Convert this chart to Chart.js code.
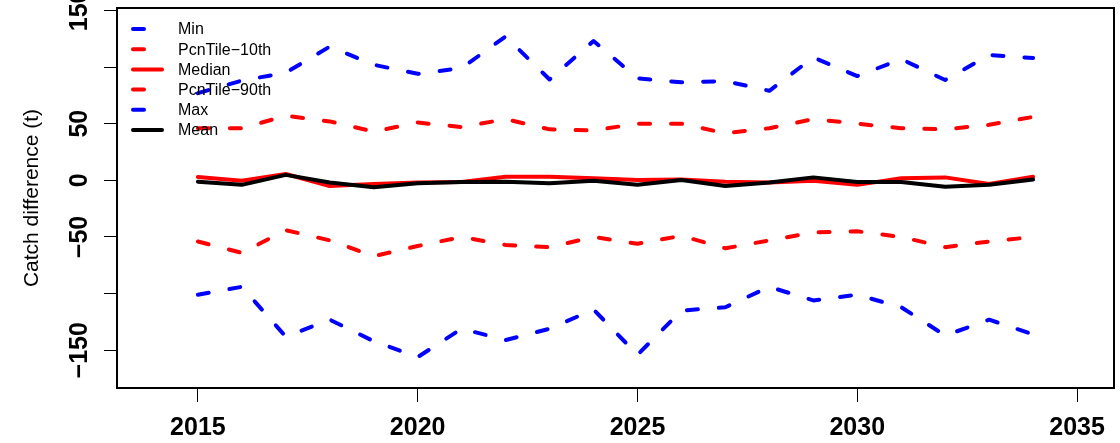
<!DOCTYPE html>
<html>
<head>
<meta charset="utf-8">
<script src="https://cdn.jsdelivr.net/npm/chart.js@4/dist/chart.umd.min.js"></script>
<style>
  html, body { margin:0; padding:0; background:#fff; }
  #wrap { width:1120px; height:443px; }
</style>
</head>
<body>
<div id="wrap"><canvas id="catchChart" width="1120" height="443"></canvas></div>
<script>
// ── Data ─────────────────────────────────────────────────
const YEARS   = [2015,2016,2017,2018,2019,2020,2021,2022,2023,2024,
                 2025,2026,2027,2028,2029,2030,2031,2032,2033,2034];
const MIN_V   = [-101,-94,-138,-123,-142,-156,-131,-141,-131,-114,
                 -154,-115,-112,-94,-106,-101,-112,-137,-123,-136];
const P10_V   = [-54,-64,-44,-53,-67,-58,-50,-57,-59,-50,
                 -56,-49,-60,-53,-46,-45,-50,-59,-54,-50];
const MED_V   = [3,-0.3,5.6,-5,-3.3,-2,-1.5,3.2,3.2,1.8,
                 0.3,0.8,-1.2,-2,-0.3,-4,1.8,2.6,-3.3,3.2];
const P90_V   = [46,46,57,52,43,51,47,54,45,44,
                 50,50,41.5,46,54,50,46,45,49,56];
const MAX_V   = [77,88,95,118,102,94,99,127,89,123,
                 90,86.5,87.6,79,108.5,92,107,88.5,110.6,108];
const MEAN_V  = [-1.2,-4,4.8,-2,-6.2,-2.6,-1.5,-1.2,-2.6,-0.3,
                 -4,0.3,-5,-2,2.6,-1.5,-1.5,-5.6,-4,0.8];

const X_TICKS   = [2015,2020,2025,2030,2035];
const Y_TICKS   = [-150,-100,-50,0,50,100,150];
const Y_LABELS  = ["−150","","−50","0","50","","150"];   // R drops 100 / -100 (overlap)

const FONT = "'Liberation Sans', Arial, Helvetica, sans-serif";
const DASH = [11,21];

const pts = vals => YEARS.map((yr,i) => ({ x:yr, y:vals[i] }));

// ── Box, y labels and legend (R style) ───────────────────
const rStyle = {
  id: "rStyle",
  afterDraw(chart) {
    const { ctx, chartArea:a, scales } = chart;
    ctx.save();
    // plot frame
    ctx.strokeStyle = "#000"; ctx.lineWidth = 2; ctx.setLineDash([]);
    ctx.strokeRect(a.left, a.top, a.right - a.left, a.bottom - a.top);

    // rotated y tick labels
    ctx.fillStyle = "#000";
    ctx.font = "bold 25px " + FONT;
    ctx.textAlign = "center"; ctx.textBaseline = "middle";
    Y_TICKS.forEach((v,i) => {
      if (!Y_LABELS[i]) return;
      const y = scales.y.getPixelForValue(v);
      ctx.save(); ctx.translate(80, y); ctx.rotate(-Math.PI/2);
      ctx.fillText(Y_LABELS[i], 0, 0);
      ctx.restore();
    });

    // legend
    ctx.font = "16px " + FONT;
    ctx.textAlign = "left";
    chart.data.datasets.forEach((ds,i) => {
      const y = 29 + i*20.2;
      ctx.strokeStyle = ds.borderColor; ctx.lineWidth = ds.borderWidth;
      ctx.lineCap = "round";
      ctx.setLineDash(ds.borderDash || []);
      ctx.beginPath(); ctx.moveTo(133, y); ctx.lineTo(162, y); ctx.stroke();
      ctx.fillStyle = "#000";
      ctx.fillText(ds.label, 178, y + 1);
    });
    ctx.restore();
  }
};

const line = (label, vals, color, dashed, order) => ({
  label, data: pts(vals),
  borderColor: color, borderWidth: 4,
  borderDash: dashed ? DASH : [],
  borderCapStyle: "round", borderJoinStyle: "round",
  pointRadius: 0, tension: 0, fill: false, order
});

new Chart(document.getElementById("catchChart"), {
  type: "line",
  data: {
    datasets: [
      line("Min",          MIN_V,  "#0000FF", true,  1),
      line("PcnTile−10th", P10_V,  "#FF0000", true,  1),
      line("Median",       MED_V,  "#FF0000", false, 1),
      line("PcnTile−90th", P90_V,  "#FF0000", true,  1),
      line("Max",          MAX_V,  "#0000FF", true,  1),
      line("Mean",         MEAN_V, "#000000", false, 0),
    ]
  },
  options: {
    responsive: false, animation: false, devicePixelRatio: 1,
    layout: { padding: { left:0, top:8, right:6, bottom:0 } },
    plugins: { legend:{ display:false }, tooltip:{ enabled:false } },
    scales: {
      x: {
        type: "linear", min: 2013.16, max: 2035.84,
        afterBuildTicks: s => { s.ticks = X_TICKS.map(v => ({ value:v })); },
        afterFit: s => { s.height = 55; },
        grid: { drawOnChartArea:false, drawTicks:true, tickLength:14, color:"#000", lineWidth:1 },
        border: { display:false },
        ticks: { color:"#000", padding:11, maxRotation:0, font:{ family:FONT, size:25, weight:"bold" },
                 callback: v => String(v) }
      },
      y: {
        type: "linear", min: -183.3, max: 152.1,
        afterBuildTicks: s => { s.ticks = Y_TICKS.map(v => ({ value:v })); },
        afterFit: s => { s.width = 117; },
        grid: { drawOnChartArea:false, drawTicks:true, tickLength:13, color:"#000", lineWidth:1 },
        border: { display:false },
        ticks: { display:false },
        title: { display:true, text:"Catch difference (t)", color:"#000",
                 font:{ family:FONT, size:21 }, padding:{ top:20, bottom:0 } }
      }
    }
  },
  plugins: [rStyle]
});
</script>
</body>
</html>
